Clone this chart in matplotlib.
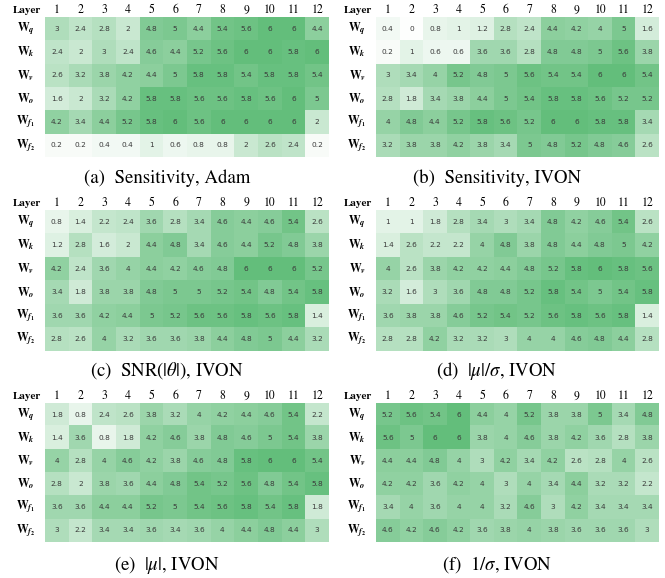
import matplotlib
matplotlib.use("Agg")
import matplotlib.pyplot as plt
from matplotlib.colors import LinearSegmentedColormap
import numpy as np

# ── Data ──────────────────────────────────────────────────────────────────────
layers = [str(i) for i in range(1, 13)]
row_labels = [r"$\mathbf{W}_{\boldsymbol{q}}$", r"$\mathbf{W}_{\boldsymbol{k}}$",
              r"$\mathbf{W}_{\boldsymbol{v}}$", r"$\mathbf{W}_{\boldsymbol{o}}$",
              r"$\mathbf{W}_{\boldsymbol{f}_\mathbf{1}}$", r"$\mathbf{W}_{\boldsymbol{f}_\mathbf{2}}$"]

sens_adam = [
    [3, 2.4, 2.8, 2, 4.8, 5, 4.4, 5.4, 5.6, 6, 6, 4.4],
    [2.4, 2, 3, 2.4, 4.6, 4.4, 5.2, 5.6, 6, 6, 5.8, 6],
    [2.6, 3.2, 3.8, 4.2, 4.4, 5, 5.8, 5.8, 5.4, 5.8, 5.8, 5.4],
    [1.6, 2, 3.2, 4.2, 5.8, 5.8, 5.6, 5.6, 5.8, 5.6, 6, 5],
    [4.2, 3.4, 4.4, 5.2, 5.8, 6, 5.6, 6, 6, 6, 6, 2],
    [0.2, 0.2, 0.4, 0.4, 1, 0.6, 0.8, 0.8, 2, 2.6, 2.4, 0.2],
]
sens_ivon = [
    [0.4, 0, 0.8, 1, 1.2, 2.8, 2.4, 4.4, 4.2, 4, 5, 1.6],
    [0.2, 1, 0.6, 0.6, 3.6, 3.6, 2.8, 4.8, 4.8, 5, 5.6, 3.8],
    [3, 3.4, 4, 5.2, 4.8, 5, 5.6, 5.4, 5.4, 6, 6, 5.4],
    [2.8, 1.8, 3.4, 3.8, 4.4, 5, 5.4, 5.8, 5.8, 5.6, 5.2, 5.2],
    [4, 4.8, 4.4, 5.2, 5.8, 5.6, 5.2, 6, 6, 5.8, 5.8, 3.4],
    [3.2, 3.8, 3.8, 4.2, 3.8, 3.4, 5, 4.8, 5.2, 4.8, 4.6, 2.6],
]
snr_theta = [
    [0.8, 1.4, 2.2, 2.4, 3.6, 2.8, 3.4, 4.6, 4.4, 4.6, 5.4, 2.6],
    [1.2, 2.8, 1.6, 2, 4.4, 4.8, 3.4, 4.6, 4.4, 5.2, 4.8, 3.8],
    [4.2, 2.4, 3.6, 4, 4.4, 4.2, 4.6, 4.8, 6, 6, 6, 5.2],
    [3.4, 1.8, 3.8, 3.8, 4.8, 5, 5, 5.2, 5.4, 4.8, 5.4, 5.8],
    [3.6, 3.6, 4.2, 4.4, 5, 5.2, 5.6, 5.6, 5.8, 5.6, 5.8, 1.4],
    [2.8, 2.6, 4, 3.2, 3.6, 3.6, 3.8, 4.4, 4.8, 5, 4.4, 3.2],
]
mu_over_sigma = [
    [1, 1, 1.8, 2.8, 3.4, 3, 3.4, 4.8, 4.2, 4.6, 5.4, 2.6],
    [1.4, 2.6, 2.2, 2.2, 4, 4.8, 3.8, 4.8, 4.4, 4.8, 5, 4.2],
    [4, 2.6, 3.8, 4.2, 4.2, 4.4, 4.8, 5.2, 5.8, 6, 5.8, 5.6],
    [3.2, 1.6, 3, 3.6, 4.8, 4.8, 5.2, 5.8, 5.4, 5, 5.4, 5.8],
    [3.6, 3.8, 3.8, 4.6, 5.2, 5.4, 5.2, 5.6, 5.8, 5.6, 5.8, 1.4],
    [2.8, 2.8, 4.2, 3.2, 3.2, 3, 4, 4, 4.6, 4.8, 4.4, 2.8],
]
abs_mu = [
    [1.8, 0.8, 2.4, 2.6, 3.8, 3.2, 4, 4.2, 4.4, 4.6, 5.4, 2.2],
    [1.4, 3.6, 0.8, 1.8, 4.2, 4.6, 3.8, 4.8, 4.6, 5, 5.4, 3.8],
    [4, 2.8, 4, 4.6, 4.2, 3.8, 4.6, 4.8, 5.8, 6, 6, 5.4],
    [2.8, 2, 3.8, 3.6, 4.4, 4.8, 5.4, 5.2, 5.6, 4.8, 5.4, 5.8],
    [3.6, 3.6, 4.4, 4.4, 5.2, 5, 5.4, 5.6, 5.8, 5.4, 5.8, 1.8],
    [3, 2.2, 3.4, 3.4, 3.6, 3.4, 3.6, 4, 4.4, 4.8, 4.4, 3],
]
inv_sigma = [
    [5.2, 5.6, 5.4, 6, 4.4, 4, 5.2, 3.8, 3.8, 5, 3.4, 4.8],
    [5.6, 5, 6, 6, 3.8, 4, 4.6, 3.8, 4.2, 3.6, 2.8, 3.8],
    [4.4, 4.4, 4.8, 4, 3, 4.2, 3.4, 4.2, 2.6, 2.8, 4, 2.6],
    [4.2, 4.2, 3.6, 4.2, 4, 3, 4, 3.4, 4.4, 3.2, 3.2, 2.2],
    [3.4, 4, 3.6, 4, 4, 3.2, 4.6, 3, 4.2, 3.4, 3.4, 3.4],
    [4.6, 4.2, 4.6, 4.2, 3.6, 3.8, 4, 3.8, 3.6, 3.6, 3.6, 3],
]

captions = [
    "(a)  Sensitivity, Adam",
    "(b)  Sensitivity, IVON",
    r"(c)  SNR($|\theta|$), IVON",
    r"(d)  $|\mu|/\sigma$, IVON",
    r"(e)  $|\mu|$, IVON",
    r"(f)  $1/\sigma$, IVON",
]
panels = [sens_adam, sens_ivon, snr_theta, mu_over_sigma, abs_mu, inv_sigma]

# ── Layout (pixels) ───────────────────────────────────────────────────────────
W, H = 665, 578
col_x = [(45, 329), (376, 659)]          # heatmap left/right edge
row_y = [(17, 157), (210, 351), (403, 542)]  # heatmap top/bottom edge
cap_y = [178, 371, 565]
cap_x = [167, 497]

plt.rcParams["mathtext.fontset"] = "stix"
SERIF = "STIXGeneral"

cmap = LinearSegmentedColormap.from_list("xl_green", ["#fdfefd", "#63be7b"])

fig = plt.figure(figsize=(W / 100, H / 100), dpi=100)
fig.patch.set_facecolor("white")

for idx, (data, cap) in enumerate(zip(panels, captions)):
    r, c = divmod(idx, 2)
    x0, x1 = col_x[c]
    y0, y1 = row_y[r]
    ax = fig.add_axes([x0 / W, 1 - y1 / H, (x1 - x0) / W, (y1 - y0) / H])
    arr = np.array(data, dtype=float)
    ax.imshow(arr, cmap=cmap, vmin=0, vmax=6, aspect="auto", interpolation="nearest")
    ax.set_xlim(-0.5, 11.5)
    ax.set_ylim(5.5, -0.5)
    ax.axis("off")

    for i in range(arr.shape[0]):
        for j in range(arr.shape[1]):
            ax.text(j, i, f"{arr[i, j]:g}", ha="center", va="center",
                    fontsize=5.3, color="#3a3a3a", family="DejaVu Sans")

    # header
    for j, lab in enumerate(layers):
        ax.text(j, -0.78, lab, ha="center", va="center", fontsize=8.5,
                family=SERIF, color="black", clip_on=False)
    ax.text(-1.28, -0.78, "Layer", ha="center", va="center", fontsize=8,
            family=SERIF, fontweight="bold", color="black", clip_on=False)

    for i, lab in enumerate(row_labels):
        ax.text(-1.3, i, lab, ha="center", va="center", fontsize=8.5,
                color="black", clip_on=False)

    fig.text(cap_x[c] / W, 1 - cap_y[r] / H, cap, ha="center", va="center",
             fontsize=13.5, family=SERIF, color="black")

fig.savefig("out.png", dpi=100, facecolor="white")
